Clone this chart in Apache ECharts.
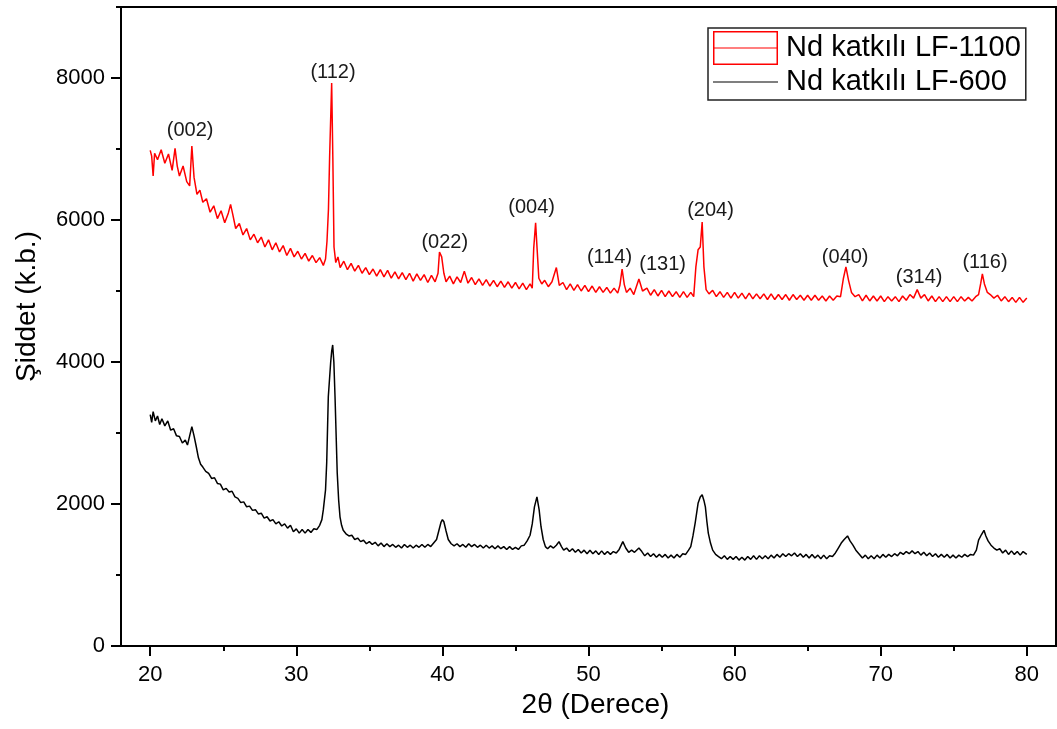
<!DOCTYPE html>
<html>
<head>
<meta charset="utf-8">
<script src="https://cdn.jsdelivr.net/npm/echarts@6/dist/echarts.min.js"></script>
<style>
html,body{margin:0;padding:0;background:#fff;}
#c{width:1057px;height:729px;}
</style>
</head>
<body>
<div id="c"></div>
<script>
// ---- data ----
const seriesNames = ['Nd katkılı LF-1100', 'Nd katkılı LF-600'];

const xTicks = [20, 30, 40, 50, 60, 70, 80];
const xMinorTicks = [25, 35, 45, 55, 65, 75];
const yTicks = [0, 2000, 4000, 6000, 8000];
const yMinorTicks = [1000, 3000, 5000, 7000, 9000];

const peakLabels = ['(002)', '(112)', '(022)', '(004)', '(114)', '(131)', '(204)', '(040)', '(314)', '(116)'];
const peakLabelPos = [[22.73, 7254], [32.51, 8071], [40.16, 5690], [46.11, 6183], [51.44, 5479],
                      [55.07, 5380], [58.35, 6127], [67.57, 5479], [72.63, 5197], [77.14, 5395]];

const lf1100 = [
[20.00,6980],[20.10,6900],[20.20,6620],[20.30,6940],[20.50,6850],[20.75,6990],[21.00,6800],[21.25,6930],
[21.50,6700],[21.70,7010],[21.85,6760],[22.00,6620],[22.25,6760],[22.50,6540],[22.70,6480],[22.85,7040],
[23.00,6600],[23.20,6360],[23.40,6420],[23.60,6250],[23.85,6300],[24.10,6110],[24.35,6200],[24.60,6020],
[24.85,6130],[25.10,5960],[25.35,6100],[25.50,6220],[25.65,6080],[25.85,5880],[26.10,5950],[26.35,5790],
[26.60,5880],[26.85,5720],[27.10,5800],[27.35,5680],[27.60,5760],[27.85,5620],[28.10,5720],[28.35,5580],
[28.60,5680],[28.85,5550],[29.10,5640],[29.35,5500],[29.60,5600],[29.85,5480],[30.10,5560],[30.35,5450],
[30.60,5530],[30.85,5420],[31.10,5500],[31.35,5400],[31.60,5470],[31.85,5360],[32.00,5450],[32.10,5700],
[32.20,6150],[32.28,6890],[32.36,6900],[32.42,7930],[32.50,6880],[32.58,5620],[32.70,5400],[32.85,5480],
[33.00,5330],[33.25,5420],[33.50,5300],[33.75,5390],[34.00,5280],[34.25,5360],[34.50,5250],[34.75,5330],
[35.00,5230],[35.25,5310],[35.50,5210],[35.75,5300],[36.00,5200],[36.25,5290],[36.50,5180],[36.75,5270],
[37.00,5170],[37.25,5260],[37.50,5160],[37.75,5250],[38.00,5140],[38.25,5240],[38.50,5150],[38.75,5230],
[39.00,5120],[39.25,5220],[39.50,5130],[39.70,5250],[39.80,5550],[39.95,5480],[40.10,5250],[40.25,5130],
[40.50,5210],[40.75,5100],[41.00,5200],[41.25,5120],[41.50,5280],[41.75,5110],[42.00,5190],[42.25,5090],
[42.50,5170],[42.75,5080],[43.00,5160],[43.25,5070],[43.50,5150],[43.75,5060],[44.00,5140],[44.25,5050],
[44.50,5130],[44.75,5040],[45.00,5120],[45.25,5030],[45.50,5110],[45.75,5020],[46.00,5100],[46.15,5040],
[46.25,5600],[46.38,5960],[46.48,5600],[46.60,5180],[46.80,5100],[47.00,5150],[47.25,5060],[47.50,5130],
[47.80,5330],[48.00,5080],[48.25,5120],[48.50,5020],[48.75,5100],[49.00,5010],[49.25,5090],[49.50,5000],
[49.75,5080],[50.00,4990],[50.25,5070],[50.50,4980],[50.75,5060],[51.00,4980],[51.25,5050],[51.50,4970],
[51.75,5040],[52.00,4970],[52.15,5080],[52.30,5310],[52.45,5090],[52.60,4980],[52.85,5040],[53.10,4950],
[53.45,5170],[53.70,5000],[54.00,5040],[54.25,4940],[54.50,5020],[54.75,4930],[55.00,5010],[55.25,4920],
[55.50,5000],[55.75,4920],[56.00,4990],[56.25,4910],[56.50,4990],[56.75,4910],[57.00,4980],[57.20,4920],
[57.35,5340],[57.50,5580],[57.65,5620],[57.78,5970],[57.90,5340],[58.05,5020],[58.25,4960],[58.50,5010],
[58.75,4920],[59.00,4990],[59.25,4910],[59.50,4980],[59.75,4900],[60.00,4980],[60.25,4900],[60.50,4970],
[60.75,4890],[61.00,4970],[61.25,4890],[61.50,4960],[61.75,4890],[62.00,4960],[62.25,4880],[62.50,4960],
[62.75,4880],[63.00,4950],[63.25,4880],[63.50,4950],[63.75,4870],[64.00,4950],[64.25,4880],[64.50,4940],
[64.75,4870],[65.00,4940],[65.25,4870],[65.50,4940],[65.75,4870],[66.00,4930],[66.25,4860],[66.50,4930],
[66.75,4870],[67.00,4930],[67.25,4920],[67.45,5180],[67.62,5340],[67.80,5150],[68.00,4980],[68.25,4920],
[68.50,4950],[68.75,4860],[69.00,4940],[69.25,4860],[69.50,4930],[69.75,4860],[70.00,4930],[70.25,4850],
[70.50,4920],[70.75,4860],[71.00,4920],[71.25,4850],[71.50,4930],[71.75,4870],[72.00,4950],[72.25,4900],
[72.50,5020],[72.75,4900],[73.00,4950],[73.25,4860],[73.50,4930],[73.75,4850],[74.00,4920],[74.25,4850],
[74.50,4920],[74.75,4850],[75.00,4920],[75.25,4850],[75.50,4920],[75.75,4860],[76.00,4910],[76.25,4860],
[76.50,4920],[76.70,4950],[76.85,5110],[76.96,5240],[77.10,5100],[77.30,4980],[77.50,4950],[77.75,4900],
[78.00,4940],[78.25,4860],[78.50,4920],[78.75,4850],[79.00,4910],[79.25,4840],[79.50,4910],[79.75,4840],
[80.00,4900]
];

const lf600 = [
[20.00,3260],[20.10,3150],[20.20,3300],[20.35,3170],[20.50,3240],[20.65,3120],[20.80,3200],[21.00,3100],
[21.20,3170],[21.40,3040],[21.60,3060],[21.80,2960],[22.00,2950],[22.20,2860],[22.40,2900],[22.55,2830],
[22.70,2960],[22.85,3090],[23.00,2960],[23.15,2810],[23.30,2650],[23.45,2560],[23.60,2520],[23.80,2460],
[24.00,2430],[24.20,2360],[24.40,2370],[24.60,2290],[24.80,2280],[25.00,2200],[25.20,2220],[25.40,2170],
[25.60,2180],[25.80,2100],[26.00,2080],[26.20,2020],[26.40,2030],[26.60,1960],[26.80,1970],[27.00,1910],
[27.20,1920],[27.40,1860],[27.60,1870],[27.80,1800],[28.00,1820],[28.20,1760],[28.40,1780],[28.60,1720],
[28.80,1750],[29.00,1690],[29.20,1720],[29.40,1660],[29.60,1700],[29.80,1610],[30.00,1650],[30.20,1590],
[30.40,1640],[30.60,1590],[30.80,1640],[31.00,1600],[31.20,1650],[31.40,1640],[31.60,1700],[31.75,1780],
[31.85,1920],[32.00,2200],[32.08,2580],[32.19,3510],[32.35,3990],[32.42,4150],[32.49,4240],[32.57,4000],
[32.65,3510],[32.80,2440],[32.90,2050],[32.99,1820],[33.10,1700],[33.21,1630],[33.40,1580],[33.60,1550],
[33.80,1560],[34.00,1500],[34.20,1520],[34.40,1470],[34.60,1490],[34.80,1440],[35.00,1470],[35.20,1430],
[35.40,1460],[35.60,1410],[35.80,1450],[36.00,1400],[36.20,1440],[36.40,1400],[36.60,1430],[36.80,1390],
[37.00,1420],[37.20,1380],[37.40,1430],[37.60,1390],[37.80,1420],[38.00,1380],[38.20,1420],[38.40,1390],
[38.60,1430],[38.80,1390],[39.00,1430],[39.20,1400],[39.40,1450],[39.60,1500],[39.75,1620],[39.90,1740],
[40.00,1780],[40.10,1750],[40.25,1620],[40.40,1500],[40.60,1440],[40.80,1410],[41.00,1440],[41.20,1400],
[41.40,1430],[41.60,1390],[41.80,1440],[42.00,1400],[42.20,1430],[42.40,1390],[42.60,1420],[42.80,1380],
[43.00,1420],[43.20,1380],[43.40,1410],[43.60,1370],[43.80,1410],[44.00,1370],[44.20,1400],[44.40,1360],
[44.60,1400],[44.80,1360],[45.00,1390],[45.20,1360],[45.40,1410],[45.60,1420],[45.80,1480],[46.00,1560],
[46.15,1720],[46.30,1960],[46.47,2100],[46.62,1920],[46.75,1680],[46.90,1500],[47.05,1400],[47.20,1370],
[47.40,1410],[47.60,1380],[47.80,1420],[47.98,1470],[48.15,1400],[48.30,1350],[48.50,1380],[48.70,1330],
[48.90,1370],[49.10,1320],[49.30,1360],[49.50,1310],[49.70,1350],[49.90,1300],[50.10,1350],[50.30,1300],
[50.50,1340],[50.70,1290],[50.90,1340],[51.10,1290],[51.30,1330],[51.50,1290],[51.70,1330],[51.90,1310],
[52.10,1360],[52.35,1470],[52.55,1380],[52.75,1320],[52.95,1350],[53.15,1320],[53.45,1380],[53.65,1330],
[53.85,1270],[54.05,1310],[54.25,1260],[54.45,1300],[54.65,1250],[54.85,1290],[55.05,1250],[55.25,1290],
[55.45,1240],[55.65,1280],[55.85,1240],[56.05,1290],[56.25,1250],[56.45,1300],[56.65,1290],[56.85,1350],
[57.00,1400],[57.15,1550],[57.30,1730],[57.50,2010],[57.65,2100],[57.78,2130],[57.90,2050],[58.00,1960],
[58.10,1760],[58.20,1590],[58.35,1450],[58.50,1350],[58.70,1290],[58.90,1260],[59.10,1230],[59.30,1270],
[59.50,1220],[59.70,1260],[59.90,1220],[60.10,1260],[60.30,1210],[60.50,1250],[60.70,1210],[60.90,1260],
[61.10,1220],[61.30,1270],[61.50,1220],[61.70,1270],[61.90,1230],[62.10,1270],[62.30,1230],[62.50,1280],
[62.70,1240],[62.90,1290],[63.10,1250],[63.30,1300],[63.50,1260],[63.70,1300],[63.90,1270],[64.10,1310],
[64.30,1260],[64.50,1300],[64.70,1250],[64.90,1290],[65.10,1240],[65.30,1290],[65.50,1240],[65.70,1280],
[65.90,1230],[66.10,1280],[66.30,1230],[66.50,1270],[66.70,1260],[66.90,1310],[67.10,1380],[67.30,1450],
[67.50,1500],[67.73,1550],[67.90,1480],[68.10,1420],[68.30,1350],[68.55,1290],[68.75,1240],[68.95,1280],
[69.15,1230],[69.35,1270],[69.55,1230],[69.75,1280],[69.95,1240],[70.15,1290],[70.35,1250],[70.55,1290],
[70.75,1260],[70.95,1300],[71.15,1270],[71.35,1320],[71.55,1290],[71.75,1330],[71.95,1300],[72.15,1340],
[72.35,1300],[72.55,1330],[72.75,1280],[72.95,1320],[73.15,1270],[73.35,1310],[73.55,1260],[73.75,1300],
[73.95,1250],[74.15,1290],[74.35,1250],[74.55,1290],[74.75,1240],[74.95,1280],[75.15,1240],[75.35,1280],
[75.55,1250],[75.75,1290],[75.95,1260],[76.15,1290],[76.35,1280],[76.55,1350],[76.70,1490],[76.90,1570],
[77.07,1630],[77.20,1550],[77.35,1480],[77.55,1420],[77.75,1380],[77.95,1350],[78.15,1370],[78.35,1310],
[78.55,1350],[78.75,1290],[78.95,1340],[79.15,1290],[79.35,1330],[79.55,1280],[79.75,1330],[80.00,1290]
];

// ---- chart ----
const FONT = '"Liberation Sans", Arial, sans-serif';
const redIcon = 'path://M0,0H65V1.5H0Z M0,32.5H65V34H0Z M0,1.5H1.5V32.5H0Z M63.5,1.5H65V32.5H63.5Z M0,16.4H65V17.6H0Z';
const blackIcon = 'path://M0,0H0.1V0.1H0Z M0,16.4H65V17.6H0Z M64.9,33.9H65V34H64.9Z';

const chart = echarts.init(document.getElementById('c'), null, {renderer: 'canvas'});
chart.setOption({
  backgroundColor: '#fff',
  animation: false,
  grid: {left: 121, top: 7, width: 935, height: 639, show: true, borderColor: '#000', borderWidth: 2, containLabel: false},
  legend: {
    orient: 'vertical', left: 708, top: 28, padding: [3, 5, 1, 5],
    itemWidth: 65, itemHeight: 34, itemGap: 0,
    borderColor: '#222', borderWidth: 1.5, backgroundColor: '#fff',
    textStyle: {fontSize: 29, color: '#000', fontFamily: FONT, padding: [0, 0, 0, 3]},
    selectedMode: false,
    data: [
      {name: seriesNames[0], icon: redIcon, itemStyle: {color: '#ff0000', borderWidth: 0}},
      {name: seriesNames[1], icon: blackIcon, itemStyle: {color: '#000', borderWidth: 0}}
    ]
  },
  xAxis: [{
    type: 'value', min: 18, max: 82, position: 'bottom',
    name: '2θ (Derece)', nameLocation: 'middle', nameGap: 44,
    nameTextStyle: {fontSize: 28, color: '#000', fontFamily: FONT, padding: [0, 0, 0, 14]},
    axisLine: {show: true, onZero: false, lineStyle: {color: '#000', width: 2}},
    axisTick: {show: true, customValues: xTicks, length: 10, lineStyle: {color: '#000', width: 2}},
    axisLabel: {customValues: xTicks, fontSize: 22, color: '#000', fontFamily: FONT, margin: 18,
                formatter: v => String(v)},
    splitLine: {show: false}
  }, {
    type: 'value', min: 18, max: 82, position: 'bottom', offset: 0,
    axisLine: {show: false},
    axisTick: {show: true, customValues: xMinorTicks, length: 5, lineStyle: {color: '#000', width: 2}},
    axisLabel: {show: false},
    splitLine: {show: false}
  }],
  yAxis: [{
    type: 'value', min: 0, max: 9000, position: 'left',
    name: 'Şiddet (k.b.)', nameLocation: 'middle', nameGap: 80,
    nameTextStyle: {fontSize: 28, color: '#000', fontFamily: FONT, padding: [0, 0, 0, 40]},
    axisLine: {show: true, onZero: false, lineStyle: {color: '#000', width: 2}},
    axisTick: {show: true, customValues: yTicks, length: 10, lineStyle: {color: '#000', width: 2}},
    axisLabel: {customValues: yTicks, fontSize: 22, color: '#000', fontFamily: FONT, margin: 16,
                formatter: v => String(v)},
    splitLine: {show: false}
  }, {
    type: 'value', min: 0, max: 9000, position: 'left', offset: 0,
    axisLine: {show: false},
    axisTick: {show: true, customValues: yMinorTicks, length: 5, lineStyle: {color: '#000', width: 2}},
    axisLabel: {show: false},
    splitLine: {show: false}
  }],
  series: [
    {name: seriesNames[1], type: 'line', data: lf600, symbol: 'none', color: '#000',
     lineStyle: {color: '#000', width: 1.5}, xAxisIndex: 0, yAxisIndex: 0},
    {name: seriesNames[0], type: 'line', data: lf1100, symbol: 'none', color: '#ff0000',
     lineStyle: {color: '#ff0000', width: 1.5}, xAxisIndex: 0, yAxisIndex: 0},
    {name: 'peaks', type: 'scatter', silent: true, symbolSize: 1,
     itemStyle: {color: 'rgba(0,0,0,0)', opacity: 1},
     data: peakLabels.map((t, i) => ({name: t, value: peakLabelPos[i]})),
     labelLayout: {hideOverlap: false},
     label: {show: true, position: 'inside', formatter: p => p.name, fontSize: 20, color: '#1a1a1a', fontFamily: FONT}}
  ]
});
</script>
</body>
</html>
